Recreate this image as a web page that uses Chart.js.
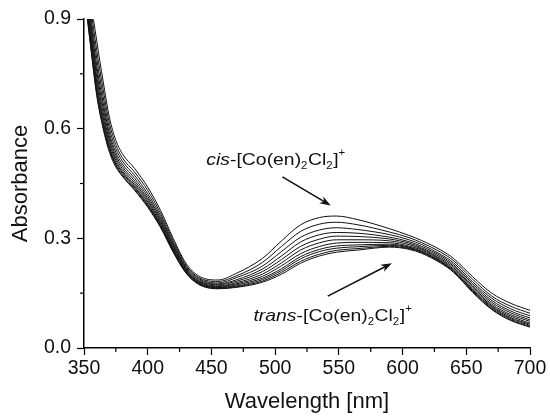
<!DOCTYPE html>
<html><head><meta charset="utf-8">
<script src="https://cdn.jsdelivr.net/npm/chart.js@4.4.0/dist/chart.umd.min.js"></script>
<style>html,body{margin:0;background:#fff}canvas{display:block}</style>
</head><body>
<canvas id="chart" width="550" height="420"></canvas>
<script>
// wavelength grid (nm) and the 11 recorded scans, cis (top) -> trans (bottom)
const wavelengths=[350,355,360,365,370,375,380,390,400,410,420,430,440,455,470,490,505,520,535,548,565,590,605,615,630,640,655,670,685,700];
const scan1=[1.100,.960,.840,.730,.630,.568,.532,.490,.440,.377,.300,.232,.197,.186,.205,.245,.293,.337,.357,.361,.351,.326,.308,.294,.268,.245,.195,.150,.122,.103];
const scan2=[1.080,.938,.814,.708,.614,.556,.521,.480,.431,.369,.294,.227,.193,.182,.198,.234,.278,.319,.339,.344,.337,.317,.302,.288,.262,.239,.188,.142,.114,.095];
const scan3=[1.062,.918,.792,.688,.600,.545,.512,.471,.422,.362,.288,.223,.190,.178,.193,.224,.264,.303,.323,.329,.324,.310,.296,.283,.256,.233,.181,.136,.107,.088];
const scan4=[1.046,.901,.772,.671,.587,.535,.504,.463,.415,.356,.283,.220,.187,.175,.187,.216,.252,.290,.310,.316,.314,.303,.291,.278,.252,.228,.176,.130,.101,.082];
const scan5=[1.033,.887,.756,.657,.577,.527,.497,.456,.409,.351,.279,.217,.184,.173,.183,.209,.242,.278,.298,.306,.305,.298,.287,.274,.248,.224,.171,.125,.096,.077];
const scan6=[1.021,.874,.741,.644,.567,.520,.491,.450,.404,.346,.275,.214,.182,.170,.179,.202,.233,.268,.288,.296,.296,.293,.283,.271,.244,.220,.167,.120,.091,.073];
const scan7=[1.010,.862,.727,.632,.559,.513,.485,.445,.399,.342,.271,.212,.180,.168,.176,.196,.225,.258,.278,.287,.289,.288,.279,.268,.241,.216,.163,.116,.087,.068];
const scan8=[1.000,.852,.715,.622,.551,.507,.481,.440,.394,.338,.268,.210,.178,.166,.173,.191,.217,.250,.270,.279,.282,.284,.276,.265,.238,.213,.159,.113,.083,.065];
const scan9=[.993,.844,.706,.614,.545,.503,.477,.437,.391,.335,.266,.208,.177,.165,.170,.187,.212,.244,.264,.273,.277,.281,.274,.263,.236,.211,.157,.110,.080,.062];
const scan10=[.986,.836,.697,.606,.540,.499,.473,.433,.388,.332,.264,.206,.175,.163,.168,.183,.207,.237,.257,.267,.272,.278,.272,.261,.234,.209,.154,.107,.077,.059];
const scan11=[.980,.830,.690,.600,.535,.495,.470,.430,.385,.330,.262,.205,.174,.162,.166,.180,.202,.232,.252,.262,.268,.276,.270,.259,.232,.207,.152,.105,.075,.057];
const scans=[scan1,scan2,scan3,scan4,scan5,scan6,scan7,scan8,scan9,scan10,scan11];

const xTicks=[350,400,450,500,550,600,650,700];
const xMinor=[375,425,475,525,575,625,675];
const yTicks=[0,0.3,0.6,0.9];
const yMinor=[0.15,0.45,0.75];

// labels + arrows, anchored in data units
const cisLabel=[{t:'cis',it:1},{t:'-[Co(en)'},{t:'2',sub:1},{t:'Cl'},{t:'2',sub:1},{t:']'},{t:'+',sup:1}];
const transLabel=[{t:'trans',it:1},{t:'-[Co(en)'},{t:'2',sub:1},{t:'Cl'},{t:'2',sub:1},{t:']'},{t:'+',sup:1}];
const notes=[
  {parts:cisLabel,x:446,y:0.5,from:[505.7,0.468],to:[543.6,0.39]},
  {parts:transLabel,x:483,y:0.073,from:[541.3,0.142],to:[591.6,0.232]}
];

const FONT='"Liberation Sans", Arial, sans-serif';

function drawRich(ctx,parts,x,y){
  ctx.save();
  ctx.translate(x,y);
  ctx.scale(1.14,1);
  ctx.fillStyle='#111';
  ctx.textBaseline='alphabetic';
  let cx=0;
  parts.forEach(p=>{
    let size=17, dy=0;
    if(p.sub){size=10;dy=4;}
    if(p.sup){size=10;dy=-9;}
    ctx.font=(p.it?'italic ':'')+size+'px '+FONT;
    ctx.fillText(p.t,cx,dy);
    cx+=ctx.measureText(p.t).width+(p.sup||p.sub?0.5:0);
  });
  ctx.restore();
}

function drawArrow(ctx,x1,y1,x2,y2){
  const a=Math.atan2(y2-y1,x2-x1), L=11, w=4;
  ctx.save();
  ctx.strokeStyle='#111'; ctx.fillStyle='#111'; ctx.lineWidth=1.6;
  ctx.beginPath(); ctx.moveTo(x1,y1);
  ctx.lineTo(x2-Math.cos(a)*6,y2-Math.sin(a)*6); ctx.stroke();
  ctx.translate(x2,y2); ctx.rotate(a);
  ctx.beginPath(); ctx.moveTo(0,0); ctx.lineTo(-L,-w); ctx.lineTo(-L*0.7,0); ctx.lineTo(-L,w); ctx.closePath(); ctx.fill();
  ctx.restore();
}

const extras={
  id:'extras',
  afterDraw(chart){
    const ctx=chart.ctx, xs=chart.scales.x, ys=chart.scales.y;
    ctx.save();
    ctx.strokeStyle='#000'; ctx.lineWidth=1.2;
    xMinor.forEach(v=>{
      const px=xs.getPixelForValue(v);
      ctx.beginPath(); ctx.moveTo(px,ys.bottom); ctx.lineTo(px,ys.bottom+4); ctx.stroke();
    });
    yMinor.forEach(v=>{
      const py=ys.getPixelForValue(v);
      ctx.beginPath(); ctx.moveTo(xs.left,py); ctx.lineTo(xs.left-4,py); ctx.stroke();
    });
    ctx.restore();
    notes.forEach(n=>{
      drawArrow(ctx,xs.getPixelForValue(n.from[0]),ys.getPixelForValue(n.from[1]),
                    xs.getPixelForValue(n.to[0]),ys.getPixelForValue(n.to[1]));
      drawRich(ctx,n.parts,xs.getPixelForValue(n.x),ys.getPixelForValue(n.y));
    });
  }
};

new Chart(document.getElementById('chart'),{
  type:'line',
  data:{
    datasets:scans.map(s=>({
      data:wavelengths.map((w,i)=>({x:w,y:s[i]})),
      borderColor:'#111',borderWidth:1,pointRadius:0,
      cubicInterpolationMode:'monotone'
    }))
  },
  options:{
    responsive:false,animation:false,
    layout:{padding:{top:19,right:20,left:0,bottom:0}},
    plugins:{legend:{display:false},tooltip:{enabled:false}},
    scales:{
      x:{
        type:'linear',min:350,max:700,
        afterBuildTicks:s=>{s.ticks=xTicks.map(v=>({value:v}));},
        afterFit:s=>{s.height=72;},
        border:{display:true,color:'#000',width:1.5},
        grid:{display:true,drawOnChartArea:false,tickLength:7,tickColor:'#000',tickWidth:1.2},
        ticks:{color:'#111',font:{family:FONT,size:19.5},padding:2,maxRotation:0},
        title:{display:true,text:'Wavelength [nm]',color:'#111',font:{family:FONT,size:22},padding:{top:0,bottom:5}}
      },
      y:{
        min:0,max:0.9,
        afterBuildTicks:s=>{s.ticks=yTicks.map(v=>({value:v}));},
        afterFit:s=>{s.width=84;},
        border:{display:true,color:'#000',width:1.5},
        grid:{display:true,drawOnChartArea:false,tickLength:7,tickColor:'#000',tickWidth:1.2},
        ticks:{color:'#111',font:{family:FONT,size:19.5},padding:6,callback:v=>v.toFixed(1)},
        title:{display:true,text:'Absorbance',color:'#111',font:{family:FONT,size:22},padding:{top:8,bottom:0}}
      }
    }
  },
  plugins:[extras]
});
</script>
</body></html>
